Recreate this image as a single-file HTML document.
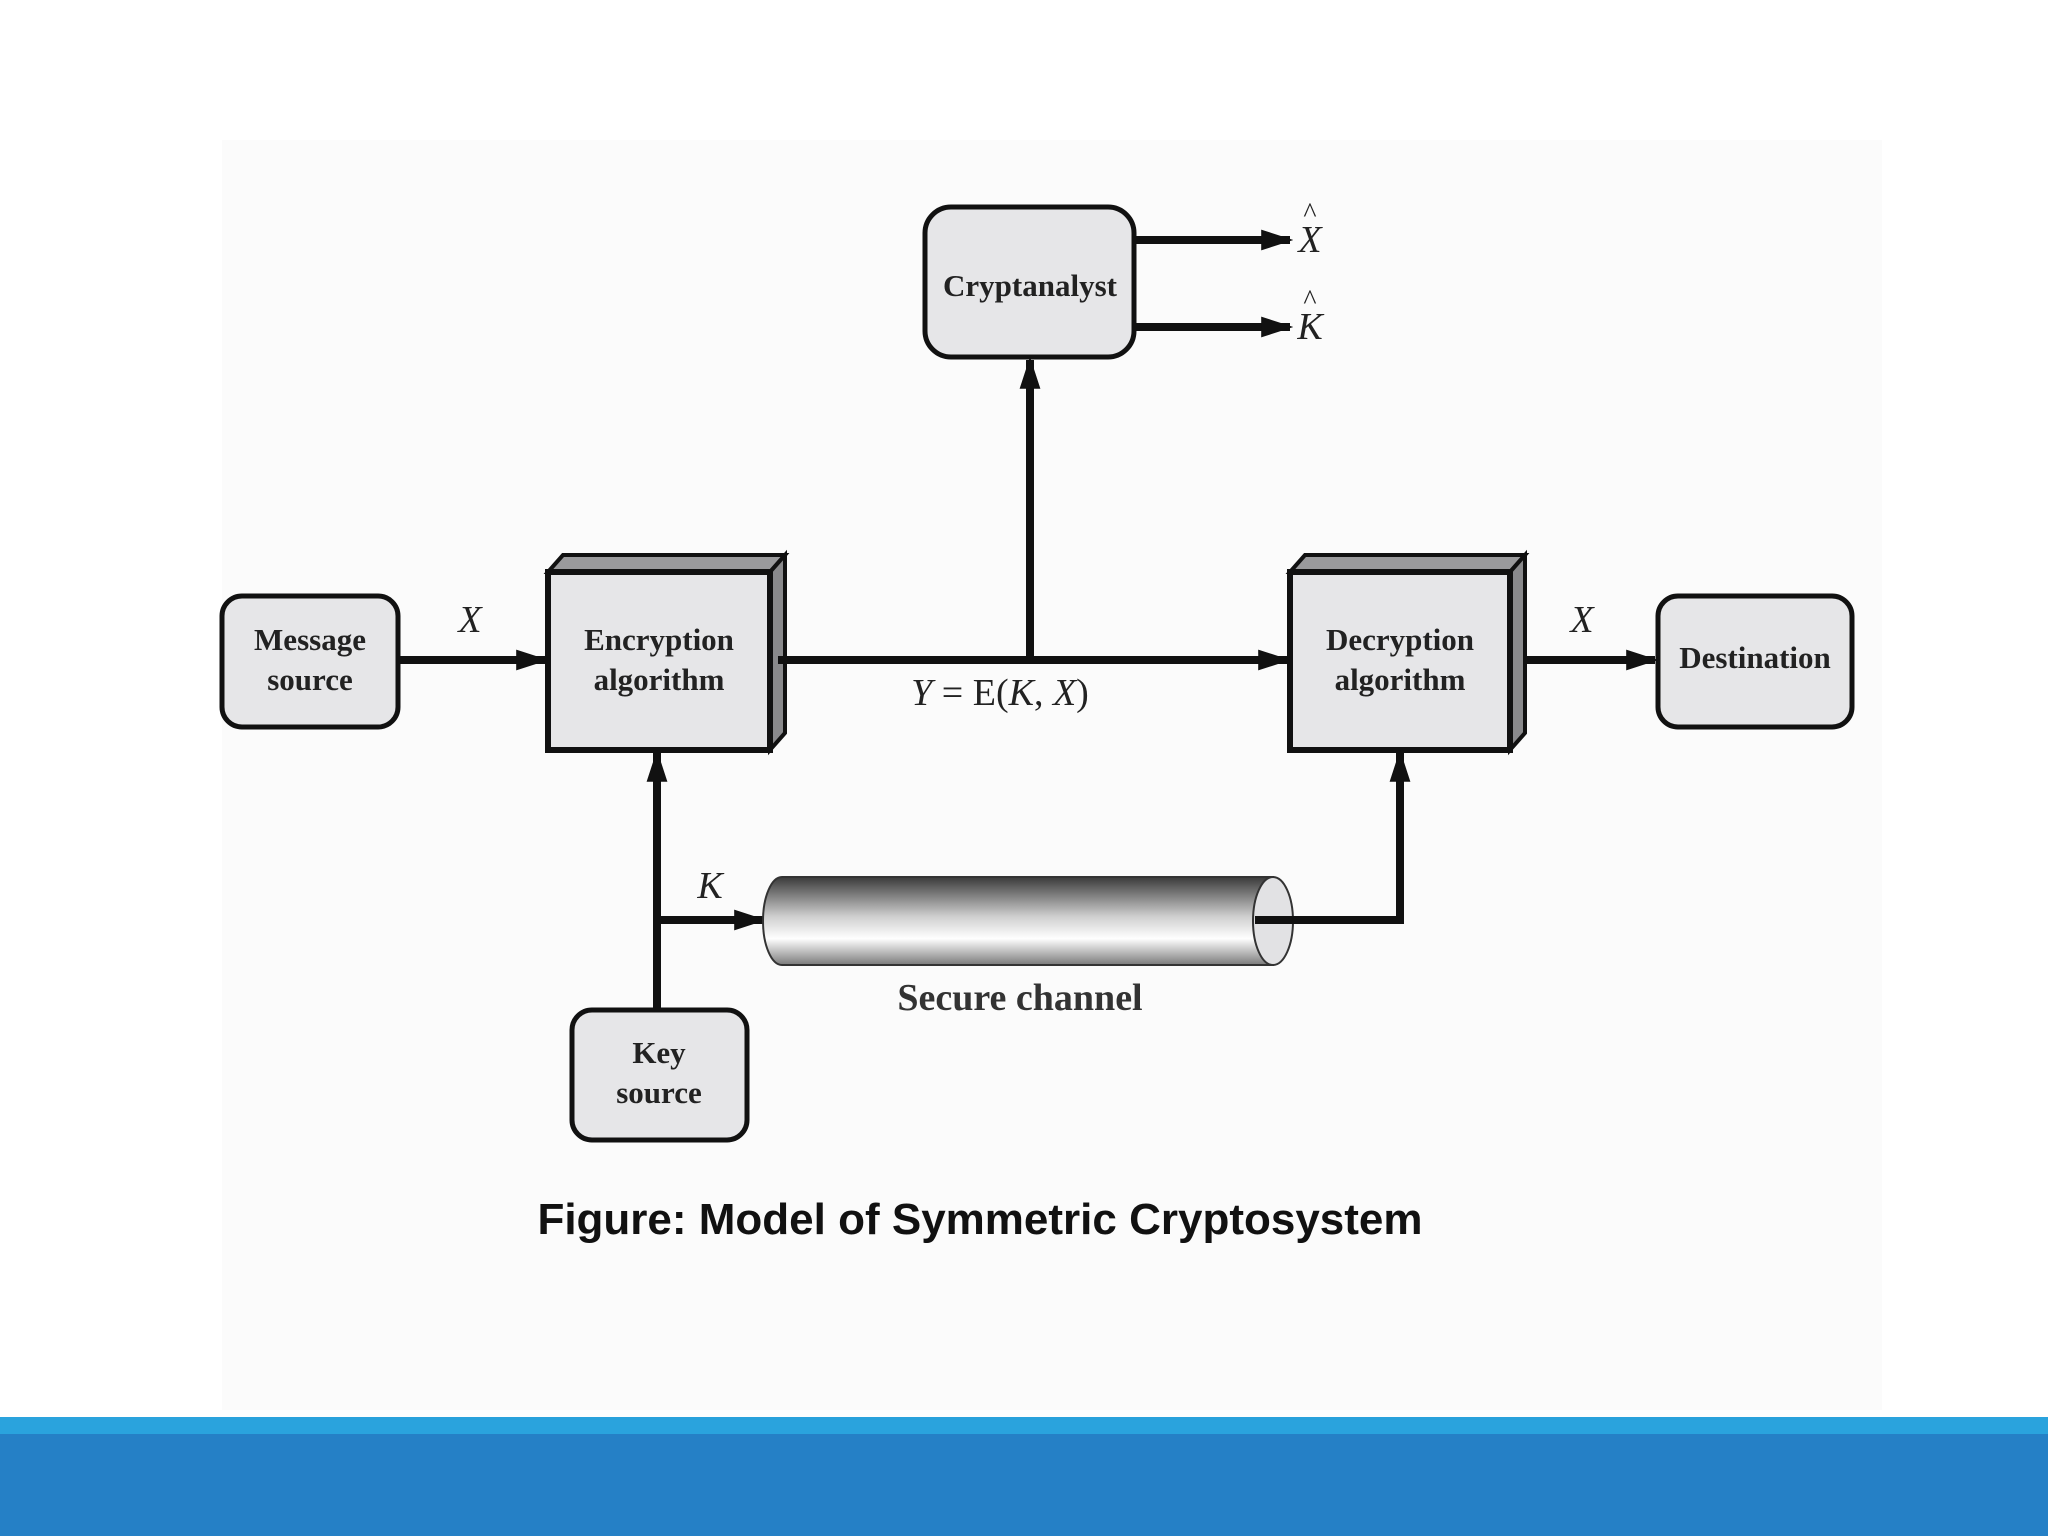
<!DOCTYPE html>
<html><head><style>
html,body{margin:0;padding:0;background:#fff;}
svg{display:block}
</style></head><body>
<svg width="2048" height="1536" viewBox="0 0 2048 1536" xmlns="http://www.w3.org/2000/svg">
<defs>
<linearGradient id="cyl" x1="0" y1="0" x2="0" y2="1">
<stop offset="0" stop-color="#3a3a3a"/>
<stop offset="0.45" stop-color="#cfcfcf"/>
<stop offset="0.7" stop-color="#ffffff"/>
<stop offset="1" stop-color="#7a7a7a"/>
</linearGradient>
<marker id="ah" markerWidth="4" markerHeight="3" refX="3.6" refY="1.5" orient="auto" markerUnits="strokeWidth">
<path d="M0,0.2 L4,1.5 L0,2.8 Z" fill="#111"/>
</marker>
</defs>
<rect x="0" y="0" width="2048" height="1536" fill="#fff"/>
<rect x="222" y="140" width="1660" height="1270" fill="#fbfbfb"/>
<g font-family="Liberation Serif, serif" font-weight="bold" fill="#222" font-size="31" text-anchor="middle">
<rect x="222" y="596" width="176" height="131" rx="20" fill="#e6e6e8" stroke="#111" stroke-width="5"/>
<text x="310" y="650">Message</text><text x="310" y="690">source</text>
<polygon points="548,572 563,555 785,555 770,572" fill="#9a9a9c" stroke="#111" stroke-width="4"/>
<polygon points="770,572 785,555 785,733 770,750" fill="#8a8a8c" stroke="#111" stroke-width="4"/>
<rect x="548" y="572" width="222" height="178" fill="#e6e6e8" stroke="#111" stroke-width="6"/>
<text x="659" y="650">Encryption</text><text x="659" y="690">algorithm</text>
<polygon points="1290,572 1305,555 1525,555 1510,572" fill="#9a9a9c" stroke="#111" stroke-width="4"/>
<polygon points="1510,572 1525,555 1525,733 1510,750" fill="#8a8a8c" stroke="#111" stroke-width="4"/>
<rect x="1290" y="572" width="220" height="178" fill="#e6e6e8" stroke="#111" stroke-width="6"/>
<text x="1400" y="650">Decryption</text><text x="1400" y="690">algorithm</text>
<rect x="1658" y="596" width="194" height="131" rx="20" fill="#e6e6e8" stroke="#111" stroke-width="5"/>
<text x="1755" y="668">Destination</text>
<rect x="925" y="207" width="209" height="150" rx="26" fill="#e6e6e8" stroke="#111" stroke-width="5"/>
<text x="1030" y="296">Cryptanalyst</text>
<rect x="572" y="1010" width="175" height="130" rx="20" fill="#e6e6e8" stroke="#111" stroke-width="5"/>
<text x="659" y="1063">Key</text><text x="659" y="1103">source</text>
<text x="1020" y="1010" font-size="38" fill="#333">Secure channel</text>
</g>
<g stroke="#111" stroke-width="8" fill="none">
<line x1="398" y1="660" x2="545" y2="660" marker-end="url(#ah)"/>
<line x1="778" y1="660" x2="1287" y2="660" marker-end="url(#ah)"/>
<line x1="1525" y1="660" x2="1655" y2="660" marker-end="url(#ah)"/>
<line x1="1030" y1="660" x2="1030" y2="360" marker-end="url(#ah)"/>
<line x1="1134" y1="240" x2="1290" y2="240" marker-end="url(#ah)"/>
<line x1="1134" y1="327" x2="1290" y2="327" marker-end="url(#ah)"/>
<line x1="657" y1="1010" x2="657" y2="753" marker-end="url(#ah)"/>
<line x1="657" y1="920" x2="763" y2="920" marker-end="url(#ah)"/>
</g>
<path d="M782,877 L1273,877 L1273,965 L782,965 A19,44 0 0 1 782,877 Z" fill="url(#cyl)" stroke="#333" stroke-width="2"/>
<ellipse cx="1273" cy="921" rx="20" ry="44" fill="#e2e2e4" stroke="#333" stroke-width="2"/>
<polyline points="1255,920 1400,920 1400,753" fill="none" stroke="#111" stroke-width="8" marker-end="url(#ah)"/>
<g font-family="Liberation Serif, serif" font-style="italic" fill="#222" font-size="38" text-anchor="middle">
<text x="470" y="632">X</text>
<text x="1582" y="632">X</text>
<text x="710" y="898">K</text>
<text x="1310" y="252">X</text>
<text x="1310" y="339">K</text>
</g>
<g font-family="Liberation Serif, serif" fill="#222" font-size="28" text-anchor="middle">
<text x="1310" y="222">^</text>
<text x="1310" y="309">^</text>
</g>
<text x="1000" y="705" text-anchor="middle" font-family="Liberation Serif, serif" font-size="38" fill="#222"><tspan font-style="italic">Y</tspan> = E(<tspan font-style="italic">K</tspan>, <tspan font-style="italic">X</tspan>)</text>
<text x="980" y="1234" text-anchor="middle" font-family="Liberation Sans, sans-serif" font-weight="bold" font-size="44" fill="#111">Figure: Model of Symmetric Cryptosystem</text>
<rect x="0" y="1417" width="2048" height="17" fill="#2aa3dd"/>
<rect x="0" y="1434" width="2048" height="102" fill="#2580c6"/>
</svg>
</body></html>
